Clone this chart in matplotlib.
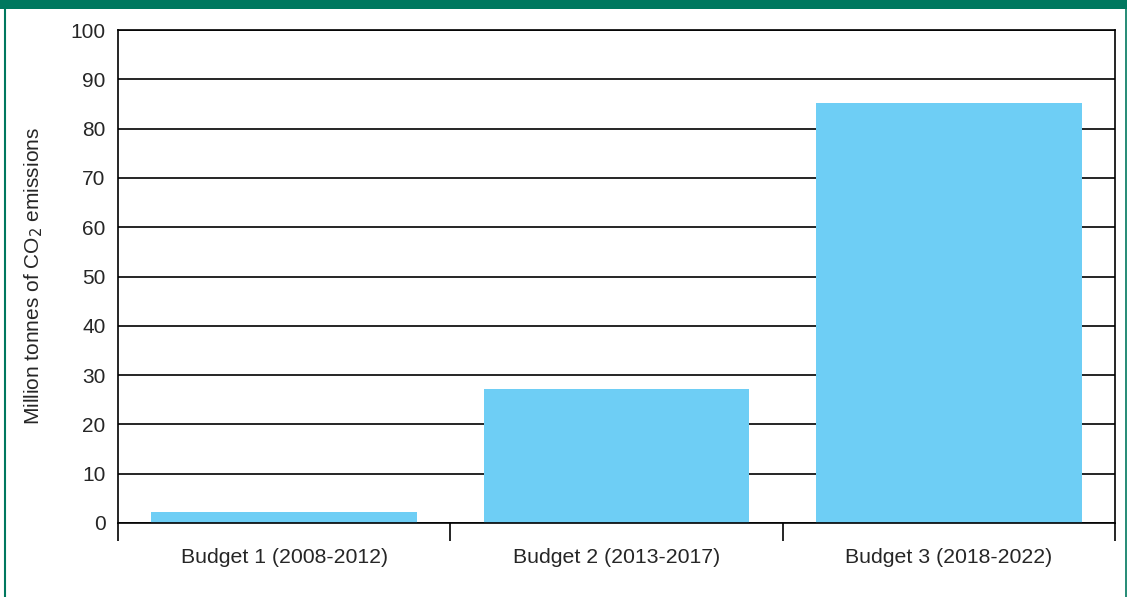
import matplotlib
matplotlib.use("Agg")
import matplotlib.pyplot as plt
from matplotlib.patches import Rectangle
from matplotlib.lines import Line2D

categories = ["Budget 1 (2008-2012)", "Budget 2 (2013-2017)", "Budget 3 (2018-2022)"]
values = [2.2, 27.2, 85.2]
yticks = [0, 10, 20, 30, 40, 50, 60, 70, 80, 90, 100]

W, H = 1127, 597
plt.rcParams['font.family'] = ['Liberation Sans', 'DejaVu Sans']
fig = plt.figure(figsize=(W / 100, H / 100), dpi=100)

# frame decorations
green = "#00785F"
fig.patches.append(Rectangle((0, 1 - 8.5 / H), 1, 8.5 / H, transform=fig.transFigure,
                             facecolor=green, edgecolor="none", zorder=0))
fig.lines.append(Line2D([4.5 / W, 4.5 / W], [0, 1], transform=fig.transFigure, color=green, lw=1.5))
fig.lines.append(Line2D([1125.5 / W, 1125.5 / W], [0, 1], transform=fig.transFigure, color=green, lw=1.2))

ax = fig.add_axes([118 / W, 1 - 523 / H, (1115 - 118) / W, (523 - 30) / H])
x = list(range(len(categories)))
ax.bar(x, values, width=0.8, color="#6ECEF5", zorder=2)
ax.set_xlim(-0.5, len(categories) - 0.5)
ax.set_ylim(0, 100)
ax.set_yticks(yticks)
ax.set_yticklabels([str(v) for v in yticks], fontsize=15, color="#262626")
ax.tick_params(axis='y', length=0, pad=9)
for v in yticks:
    ax.axhline(v, color="black", lw=1.2, zorder=1)

ax.set_xticks([i - 0.5 for i in range(len(categories) + 1)])
ax.set_xticklabels([])
ax.tick_params(axis='x', length=13, width=1.2, color="black")
ax.set_xticks(x, minor=True)
ax.set_xticklabels(categories, minor=True, fontsize=15.3, color="#262626")
ax.tick_params(axis='x', which='minor', length=0, pad=18)

for s in ["left", "right", "top", "bottom"]:
    ax.spines[s].set_linewidth(1.2)
    ax.spines[s].set_color("black")

ax.set_ylabel("Million tonnes of CO$_2$ emissions", fontsize=15, color="#262626", labelpad=18)

fig.savefig("out.png", dpi=100)
